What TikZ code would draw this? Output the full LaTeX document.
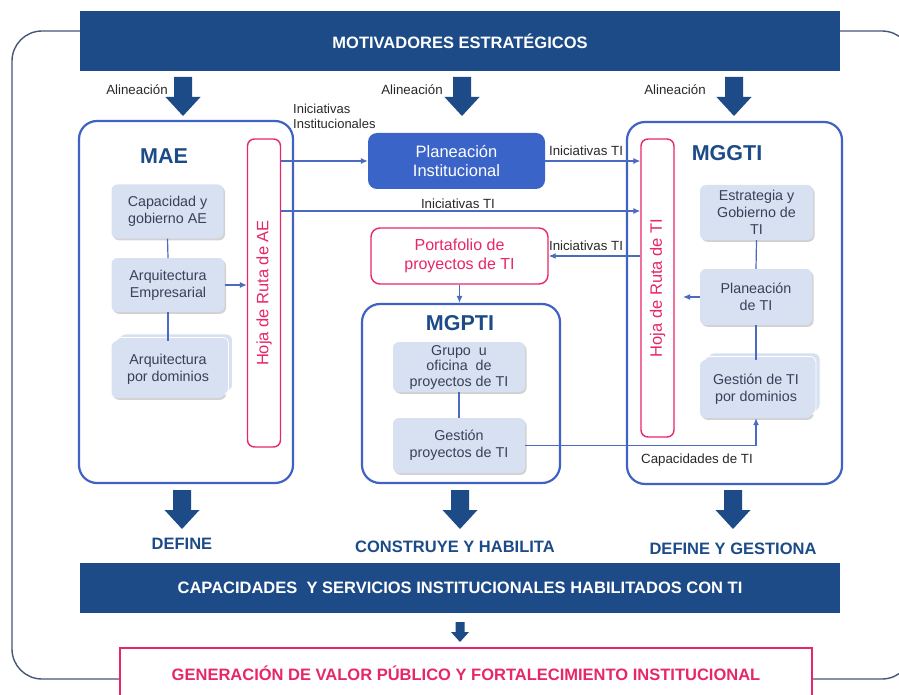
\documentclass[tikz,border=0pt]{standalone}
\usepackage{fontspec}
\setmainfont{Liberation Sans}
\usetikzlibrary{arrows.meta,shadows,calc}
\definecolor{navy}{RGB}{28,75,135}
\definecolor{mblue}{RGB}{63,98,196}
\definecolor{connc}{RGB}{74,107,192}
\definecolor{planfill}{RGB}{58,100,200}
\definecolor{pinkc}{RGB}{232,38,106}
\definecolor{lightbox}{RGB}{216,225,241}
\definecolor{boxtext}{RGB}{55,65,90}
\definecolor{framec}{RGB}{70,85,120}
\definecolor{lbltext}{RGB}{40,40,40}
\begin{document}
\begin{tikzpicture}[x=1pt,y=-1pt,
  banner/.style={fill=navy, text=white, font=\fontsize{16.5}{18}\selectfont\bfseries, inner sep=0pt},
  lbox/.style={fill=lightbox, rounded corners=6pt, inner sep=1pt, align=center, text=boxtext,
     font=\fontsize{14.3}{16.8}\selectfont,
     drop shadow={shadow xshift=1.5pt, shadow yshift=-1.8pt, opacity=0.35, fill=gray}},
  stackbox/.style={lbox, double copy shadow={shadow xshift=4pt, shadow yshift=3.5pt, fill=lightbox, draw=white, line width=0.8pt}},
  bigbox/.style={draw=mblue, line width=2.2pt, rounded corners=18pt, fill=white, inner sep=0pt},
  hoja/.style={draw=pinkc, line width=1.4pt, rounded corners=7pt, fill=white, rotate=90, text=pinkc,
     font=\fontsize{16.5}{18}\selectfont, inner sep=0pt},
  title/.style={text=navy, font=\fontsize{21.5}{23}\selectfont\bfseries, inner sep=0pt},
  lbl/.style={text=lbltext, font=\fontsize{13.3}{15}\selectfont, inner sep=0pt},
  outlbl/.style={text=navy, font=\fontsize{16.5}{18}\selectfont\bfseries, inner sep=0pt},
  conn/.style={draw=connc, line width=1.2pt, -{Latex[length=7pt,width=6pt]}},
  plainconn/.style={draw=connc, line width=1.2pt},
  bigarrow/.pic={\fill[navy] (-9,0) -- (9,0) -- (9,20) -- (17.5,20) -- (0,39) -- (-17.5,20) -- (-9,20) -- cycle;},
  smallarrow/.pic={\fill[navy] (-4.5,0) -- (4.5,0) -- (4.5,10) -- (9,10) -- (0,20) -- (-9,10) -- (-4.5,10) -- cycle;}
]
\useasboundingbox (0,0) rectangle (899,695);
\clip (0,0) rectangle (899,695);

% outer frame
\draw[framec, line width=1.4pt, rounded corners=30pt] (12,31) rectangle (912,679);

% banners
\node[banner, minimum width=760pt, minimum height=60pt] (top) at (460,41.5) {MOTIVADORES ESTRATÉGICOS};
\node[banner, minimum width=760pt, minimum height=50pt] (cap2) at (460,588) {CAPACIDADES\ \ Y SERVICIOS INSTITUCIONALES HABILITADOS CON TI};
\node[draw=pinkc, line width=1.5pt, fill=white, minimum width=692pt, minimum height=50pt, inner sep=0pt,
      text=pinkc, font=\fontsize{16.5}{18}\selectfont\bfseries] (gen) at (466,673) {GENERACIÓN DE VALOR PÚBLICO Y FORTALECIMIENTO INSTITUCIONAL};

% top arrows
\pic at (183,77) {bigarrow};
\pic at (462,77) {bigarrow};
\pic at (734,77) {bigarrow};
\node[lbl] (al1) at (137,90) {Alineación};
\node[lbl] (al2) at (412,90) {Alineación};
\node[lbl] (al3) at (675,90) {Alineación};

% bottom arrows
\pic at (182,490) {bigarrow};
\pic at (460,490) {bigarrow};
\pic at (733,490) {bigarrow};
\pic at (460,622) {smallarrow};
\node[outlbl] (def1) at (182,544) {DEFINE};
\node[outlbl] (def2) at (455,547) {CONSTRUYE Y HABILITA};
\node[outlbl] (def3) at (733,549) {DEFINE Y GESTIONA};

% big boxes
\node[bigbox, minimum width=214pt, minimum height=362pt] (mae) at (186,302) {};
\node[bigbox, minimum width=215pt, minimum height=362pt] (mggti) at (734.5,303) {};
\node[bigbox, minimum width=198pt, minimum height=179pt] (mgpti) at (461,393.5) {};

\node[title] (maet) at (164,156) {MAE};
\node[title] (mggtit) at (727,153) {MGGTI};
\node[title] (mgptit) at (460,323) {MGPTI};

% hojas de ruta
\node[hoja, minimum width=308pt, minimum height=33pt] (hojaAE) at (264,293) {Hoja de Ruta de AE};
\node[hoja, minimum width=298pt, minimum height=33pt] (hojaTI) at (657.5,288) {Hoja de Ruta de TI};

% MAE inner boxes
\node[lbox, minimum width=112pt, minimum height=54pt] (cap) at (167.5,211.5) {Capacidad y\\gobierno AE};
\node[lbox, minimum width=113pt, minimum height=54pt] (arqE) at (168,285) {Arquitectura\\Empresarial};
\node[stackbox, minimum width=113pt, minimum height=57pt] (dom) at (168,369.5) {Arquitectura\\por dominios};

% MGGTI inner boxes
\node[lbox, minimum width=113pt, minimum height=55pt] (estr) at (756.5,212.5) {Estrategia y\\Gobierno de\\TI};
\node[lbox, minimum width=112pt, minimum height=56pt] (planTI) at (756,297) {Planeación\\de TI};
\node[stackbox, minimum width=112pt, minimum height=58pt] (gestTI) at (756,389) {Gestión de TI\\por dominios};

% MGPTI inner boxes
\node[lbox, minimum width=132pt, minimum height=50pt, font=\fontsize{14.3}{15.5}\selectfont] (grupo) at (459,367) {Grupo\ \ u\\oficina\ \ de\\proyectos de TI};
\node[lbox, minimum width=132pt, minimum height=55pt] (gestP) at (459,445.5) {Gestión\\proyectos de TI};

% middle boxes
\node[fill=planfill, rounded corners=9pt, minimum width=177pt, minimum height=56pt, inner sep=0pt, align=center,
      text=white, font=\fontsize{16.5}{19.5}\selectfont] (plan) at (456.5,161) {Planeación\\Institucional};
\node[draw=pinkc, line width=1.4pt, fill=white, rounded corners=9pt, minimum width=177pt, minimum height=56pt, inner sep=0pt, align=center,
      text=pinkc, font=\fontsize{16}{19.5}\selectfont] (port) at (459.5,256) {Portafolio de\\proyectos de TI};

% vertical connectors
\draw[plainconn] (cap.south) -- (arqE.north);
\draw[plainconn] (arqE.south) -- (dom.north);
\draw[plainconn] (estr.south) -- (planTI.north);
\draw[plainconn] (planTI.south) -- (gestTI.north);
\draw[plainconn] (grupo.south) -- (gestP.north);

% arrows
\draw[conn] (arqE.east) -- (hojaAE.north |- arqE.east);
\draw[conn] (hojaAE.south |- plan.west) -- (plan.west);
\draw[conn] (plan.east) -- (hojaTI.north |- plan.east);
\coordinate (r2) at (0,211);
\draw[conn] (hojaAE.south |- r2) -- (hojaTI.north |- r2);
\draw[conn] (hojaTI.north |- port.east) -- (port.east);
\draw[conn] (port.south) -- (port.south |- mgpti.north);
\coordinate (pt) at (683,297);
\draw[conn] (planTI.west) -- (pt);
\draw[conn] (gestP.east) -- (gestTI.south |- gestP.east) -- (gestTI.south);

% labels
\node[lbl, anchor=north west, align=left, font=\fontsize{13}{15}\selectfont] (ii) at (293,104) {Iniciativas\\Institucionales};
\node[lbl] (it1) at (586,151) {Iniciativas TI};
\node[lbl] (it2) at (458,204) {Iniciativas TI};
\node[lbl] (it3) at (586,246) {Iniciativas TI};
\node[lbl] (ctl) at (697,460) {Capacidades de TI};
\end{tikzpicture}
\end{document}
